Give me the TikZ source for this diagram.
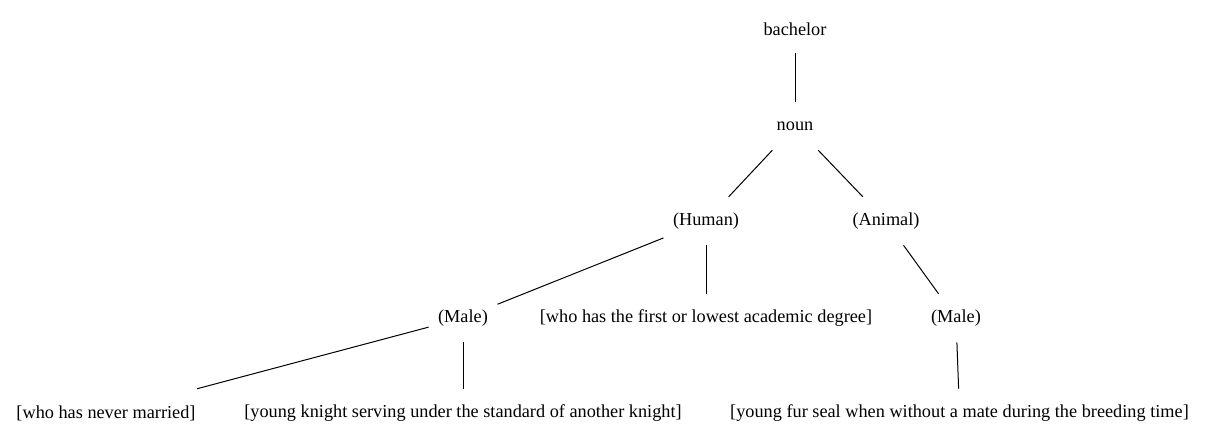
\documentclass[tikz,border=0pt]{standalone}
\usepackage{fontspec}
\setmainfont{Liberation Serif}
\begin{document}
\begin{tikzpicture}[x=0.75pt,y=-0.75pt,
  lbl/.style={inner xsep=7pt,inner ysep=0pt,minimum height=36pt,font=\fontsize{13.7}{16}\selectfont},
  edge/.style={line width=0.75pt}]
\useasboundingbox (0,0) rectangle (1205,443);
\node[lbl] (bach) at (795,29) {bachelor};
\node[lbl] (noun) at (795,126) {noun};
\node[lbl] (human) at (706,221) {(Human)};
\node[lbl] (animal) at (886,221) {(Animal)};
\node[lbl] (maleh) at (463,318) {(Male)};
\node[lbl] (degree) at (706,318) {[who has the first or lowest academic degree]};
\node[lbl] (malea) at (956,318) {(Male)};
\node[lbl] (never) at (106,413) {[who has never married]};
\node[lbl] (knight) at (463,413) {[young knight serving under the standard of another knight]};
\node[lbl] (seal) at (959.5,413) {[young fur seal when without a mate during the breeding time]};
\draw[edge] (bach) -- (noun);
\draw[edge] (noun) -- (human);
\draw[edge] (noun) -- (animal);
\draw[edge] (human) -- (maleh);
\draw[edge] (human) -- (degree);
\draw[edge] (animal) -- (malea);
\draw[edge] (maleh) -- (never);
\draw[edge] (maleh) -- (knight);
\draw[edge] (malea) -- (seal);
\end{tikzpicture}
\end{document}
